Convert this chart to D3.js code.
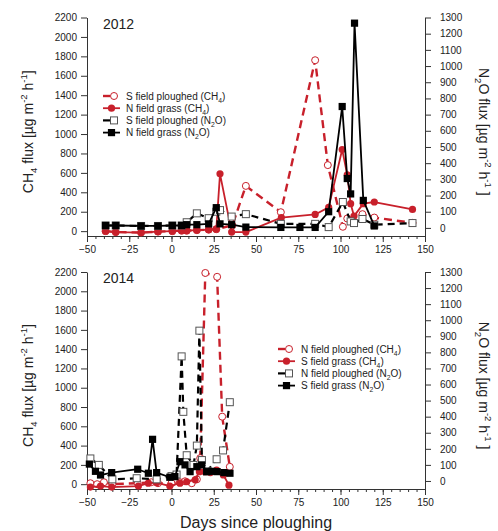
<!DOCTYPE html>
<html>
<head>
<meta charset="utf-8">
<script src="https://cdn.jsdelivr.net/npm/d3@7"></script>
<style>
  body { margin: 0; background: #fff; }
  svg { display: block; font-family: "Liberation Sans", Arial, sans-serif; }
</style>
</head>
<body>
<svg id="chart" width="498" height="531"></svg>
<script>
// ---- data ----
var dayTicks = [-50, -25, 0, 25, 50, 75, 100, 125, 150];
var ch4Ticks = d3.range(0, 2201, 200);
var n2oTicks = d3.range(0, 1301, 100);

// 2012
var days12_sPlCH4 = [-39, -33, -18, -8, 0.5, 6, 9, 15, 22, 26.5, 36, 44, 64.7, 85, 92.5, 101.4, 104, 113, 120, 142.6];
var flux12_sPlCH4 = [0, -10, -15, -5, 0, 5, 5, 10, 15, 20, 60, 466, 195, 1760, 680, 45, 130, 175, 140, 85];

var days12_nGrCH4 = [-39, -33, -18, -8, 0.5, 6, 9, 15, 22, 26.5, 28.7, 35.6, 44, 65, 85, 93, 101, 104, 106, 108, 113.5, 120, 142.6];
var flux12_nGrCH4 = [0, -10, -15, -5, 0, 5, 5, 10, 15, 20, 590, -10, -10, 140, 172, 245, 840, 580, 283, 155, 283, 300, 224];

var days12_sPlN2O = [-39, -33, -18, -8, 0.5, 6, 9, 15, 22, 26.5, 28.7, 35.6, 44, 64.7, 85, 93, 101.4, 106, 108, 113, 120, 142.6];
var flux12_sPlN2O = [15, 15, 12, 12, 15, 15, 35, 90, 60, 100, 110, 70, 85, 25, 25, 5, 160, 40, 30, 55, 20, 30];

var days12_nGrN2O = [-39, -33, -18, -8, 0.5, 6, 9, 15, 22, 26.5, 28.7, 35.6, 44, 64.7, 76, 85, 93, 101, 104, 106, 108.3, 113.5, 120];
var flux12_nGrN2O = [15, 15, 12, 12, 15, 15, 20, 20, 25, 125, 25, 20, 5, 3, 3, 3, 100, 750, 305, 210, 1265, 170, 12];

// 2014
var days14_nPlCH4 = [-48, -44, -40, -35, -20, -12, -8, 0, 5, 8, 12, 15, 17, 20, 27, 30, 34.5];
var flux14_nPlCH4 = [10, 0, 20, 0, 10, 20, 10, 10, 20, 30, 10, 50, 270, 2190, 2150, 700, 180];

var days14_sGrCH4 = [-48, -42, -35.4, -19.6, -13.7, -8.8, -1, 5, 9, 14, 16.5, 19.8, 23, 26.7, 30.7, 34];
var flux14_sGrCH4 = [-30, -20, -30, -20, 10, 15, -20, 10, 25, 45, 130, 130, 120, 147, 95, -10];

var days14_nPlN2O = [-48, -43, -35, -20.6, -8.8, 0, 3, 6, 7, 9, 13, 15, 16.5, 18, 21, 26.7, 30.5, 34.5];
var flux14_nPlN2O = [140, 100, 10, 17, 10, 30, 40, 775, 430, 160, 100, 220, 935, 130, 60, 135, 190, 490];

var days14_sGrN2O = [-48.6, -45, -42, -35.4, -20, -13.7, -11.2, -8.8, -1, 2, 5, 8, 11, 15, 17.9, 20.8, 24, 27, 31, 34.6];
var flux14_sGrN2O = [105, 60, 37, 52, 73, 48, 259, 52, 23, 27, 120, 100, 58, 89, 100, 58, 60, 58, 52, 48];

var legend12 = ["S field ploughed", "N field grass", "S field ploughed", "N field grass"];
var legend14 = ["N field ploughed", "S field grass", "N field ploughed", "S field grass"];

// ---- drawing ----
var RED = "#c8202b", INK = "#222";
var svg = d3.select("#chart");

var x = d3.scaleLinear().domain([-50, 150]).range([87, 425]);

function zip(a, b) { return a.map(function(d, i){ return [d, b[i]]; }); }

// text with sub/superscripts: parts = [[text, ''|'sub'|'sup'], ...]
function richText(sel, parts, size) {
  var shift = 0;
  parts.forEach(function(p){
    var target = p[1] === "sub" ? size * 0.3 : (p[1] === "sup" ? -size * 0.42 : 0);
    sel.append("tspan")
      .attr("dy", target - shift)
      .style("font-size", (p[1] ? size * 0.68 : size) + "px")
      .text(p[0]);
    shift = target;
  });
}

function gasParts(gas) {
  return gas === "CH4" ? [["CH", ""], ["4", "sub"]] : [["N", ""], ["2", "sub"], ["O", ""]];
}

function drawMarker(g, kind, cx, cy) {
  if (kind === "openCircle") {
    g.append("circle").attr("cx", cx).attr("cy", cy).attr("r", 3.5)
      .attr("fill", "#fff").attr("stroke", RED).attr("stroke-width", 1);
  } else if (kind === "circle") {
    g.append("circle").attr("cx", cx).attr("cy", cy).attr("r", 3.6).attr("fill", RED);
  } else if (kind === "openSquare") {
    g.append("rect").attr("x", cx - 3.5).attr("y", cy - 3.5).attr("width", 7).attr("height", 7)
      .attr("fill", "#fff").attr("stroke", "#555").attr("stroke-width", 1);
  } else {
    g.append("rect").attr("x", cx - 3.6).attr("y", cy - 3.6).attr("width", 7.2).attr("height", 7.2).attr("fill", "#000");
  }
}

var styles = [
  { color: RED, dash: "8,5", width: 2.4, marker: "openCircle", gas: "CH4", axis: "left" },
  { color: RED, dash: null, width: 1.8, marker: "circle", gas: "CH4", axis: "left" },
  { color: "#000", dash: "7,5", width: 2.2, marker: "openSquare", gas: "N2O", axis: "right" },
  { color: "#000", dash: null, width: 1.8, marker: "square", gas: "N2O", axis: "right" }
];

function drawPanel(p) {
  var yL = d3.scaleLinear().domain([-50, 2200]).range([p.bottom, p.top]);
  var yR = d3.scaleLinear().domain([-50, 1300]).range([p.bottom, p.top]);
  var g = svg.append("g");
  var fmt = d3.format("d");

  // axes
  var xMinor = g.append("g").attr("transform", "translate(0," + p.bottom + ")")
    .call(d3.axisBottom(x).tickValues(d3.range(-50, 151, 5)).tickSize(3).tickSizeOuter(0).tickFormat(""));
  var xMajor = g.append("g").attr("transform", "translate(0," + p.bottom + ")")
    .call(d3.axisBottom(x).tickValues(dayTicks).tickSize(6).tickSizeOuter(0).tickPadding(4).tickFormat(fmt));
  var yLeft = g.append("g").attr("transform", "translate(" + x(-50) + ",0)")
    .call(d3.axisLeft(yL).tickValues(ch4Ticks).tickSize(6).tickSizeOuter(0).tickPadding(4).tickFormat(fmt));
  var yRight = g.append("g").attr("transform", "translate(" + x(150) + ",0)")
    .call(d3.axisRight(yR).tickValues(n2oTicks).tickSize(6).tickSizeOuter(0).tickPadding(9).tickFormat(fmt));
  [xMinor, xMajor, yLeft, yRight].forEach(function(a){
    a.selectAll("path, line").attr("stroke", "#333").attr("stroke-width", 1);
    a.selectAll("text").attr("fill", INK).style("font-size", "10px")
      .style("font-family", "'Liberation Sans', Arial, sans-serif");
  });

  // series
  p.series.forEach(function(s, i){
    var st = styles[i];
    var y = st.axis === "left" ? yL : yR;
    var pts = zip(s.days, s.flux);
    var line = d3.line().x(function(d){ return x(d[0]); }).y(function(d){ return y(d[1]); });
    g.append("path").datum(pts).attr("d", line)
      .attr("fill", "none").attr("stroke", st.color).attr("stroke-width", st.width)
      .attr("stroke-dasharray", st.dash).attr("stroke-linejoin", "round");
    var mg = g.append("g");
    pts.forEach(function(d){ drawMarker(mg, st.marker, x(d[0]), y(d[1])); });
  });

  // year label
  g.append("text").attr("x", 103).attr("y", p.top + 11).attr("fill", INK)
    .style("font-size", "14px").text(p.year);

  // legend
  p.legend.forEach(function(name, i){
    var st = styles[i];
    var ly = p.legendY + i * 12.2, lx = p.legendX;
    if (st.dash) {
      g.append("line").attr("x1", lx).attr("x2", lx + 7).attr("y1", ly).attr("y2", ly)
        .attr("stroke", st.color).attr("stroke-width", st.width);
      drawMarker(g, st.marker, lx + 11, ly);
    } else {
      g.append("line").attr("x1", lx).attr("x2", lx + 17).attr("y1", ly).attr("y2", ly)
        .attr("stroke", st.color).attr("stroke-width", st.width);
      drawMarker(g, st.marker, lx + 8.5, ly);
    }
    var t = g.append("text").attr("x", lx + 23).attr("y", ly + 3.5).attr("fill", INK).style("font-size", "10px");
    richText(t, [[name + " (", ""]].concat(gasParts(st.gas)).concat([[")", ""]]), 10);
  });

  // axis titles
  var mid = (p.top + p.bottom) / 2 + 5;
  var lt = g.append("text").attr("text-anchor", "middle").attr("fill", INK)
    .attr("transform", "translate(33," + mid + ") rotate(-90)").style("font-size", "14px");
  richText(lt, [["CH", ""], ["4", "sub"], [" flux [µg m", ""], ["-2", "sup"], [" h", ""], ["-1", "sup"], ["]", ""]], 14);
  var rt = g.append("text").attr("text-anchor", "middle").attr("fill", INK)
    .attr("transform", "translate(479," + mid + ") rotate(90)").style("font-size", "14px");
  richText(rt, [["N", ""], ["2", "sub"], ["O flux [µg m", ""], ["-2", "sup"], [" h", ""], ["-1", "sup"], [" ]", ""]], 14);
}

drawPanel({
  top: 17.5, bottom: 236, year: "2012", legend: legend12, legendX: 103, legendY: 96,
  series: [
    { days: days12_sPlCH4, flux: flux12_sPlCH4 },
    { days: days12_nGrCH4, flux: flux12_nGrCH4 },
    { days: days12_sPlN2O, flux: flux12_sPlN2O },
    { days: days12_nGrN2O, flux: flux12_nGrN2O }
  ]
});

drawPanel({
  top: 272, bottom: 489, year: "2014", legend: legend14, legendX: 278, legendY: 349,
  series: [
    { days: days14_nPlCH4, flux: flux14_nPlCH4 },
    { days: days14_sGrCH4, flux: flux14_sGrCH4 },
    { days: days14_nPlN2O, flux: flux14_nPlN2O },
    { days: days14_sGrN2O, flux: flux14_sGrN2O }
  ]
});

svg.append("text").attr("x", 256).attr("y", 528).attr("text-anchor", "middle")
  .attr("fill", INK).style("font-size", "16px").text("Days since ploughing");
</script>
</body>
</html>
